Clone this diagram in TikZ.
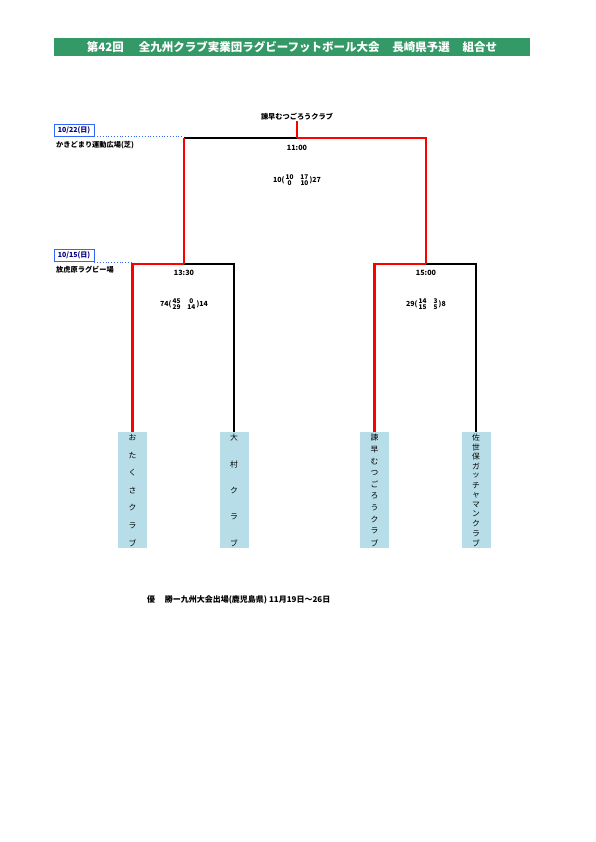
\documentclass[tikz,border=0pt]{standalone}
\usepackage{fontspec}
\setmainfont{Noto Sans CJK JP}
\usepackage{xcolor}
\usetikzlibrary{positioning}
\definecolor{titlegreen}{RGB}{51,153,102}
\definecolor{teamblue}{RGB}{183,222,232}
\definecolor{datenavy}{RGB}{0,0,128}
\definecolor{dateblue}{RGB}{51,102,255}
% team name written top to bottom inside its box: node, number of chars, chars
\newcommand{\teamname}[3]{%
  \foreach \ch [count=\i] in {#3}
    {\node[teamchar] at ([yshift={-(6+(\i-1)*105/(#2-1))*1pt}]#1.north) {\ch};}}
\newcommand{\scorebox}[3]{#1(\,{\fontsize{6.5}{6.5}\selectfont\renewcommand\arraystretch{0.7}\begin{tabular}{@{}c@{\hspace{7pt}}c@{}}#2\end{tabular}}\,)#3}

\begin{document}
\begin{tikzpicture}[x=1pt, y=-1pt,
  win/.style={red, line width=2.4pt},
  lose/.style={black, line width=2pt},
  dateline/.style={dateblue, dotted, line width=0.8pt},
  datebox/.style={draw=dateblue, line width=0.8pt, minimum width=40pt, minimum height=12pt, inner sep=0pt,
    text=datenavy, font=\fontsize{7}{7}\selectfont\bfseries},
  venue/.style={anchor=west, inner sep=0pt, font=\fontsize{7.2}{7}\selectfont\bfseries},
  timelab/.style={inner sep=0pt, font=\fontsize{7.2}{7}\selectfont\bfseries},
  score/.style={inner sep=0pt, font=\fontsize{7}{7}\selectfont\bfseries},
  teambox/.style={fill=teamblue, inner sep=0pt, minimum width=29pt, minimum height=116pt},
  teamchar/.style={inner sep=0pt, font=\fontsize{7.8}{7}\selectfont}]
  \useasboundingbox (0,0) rectangle (595,842);
  % Title bar
  \fill[titlegreen] (54,38) rectangle (530,56);
  \node[text=white, font=\fontsize{11.5}{11}\selectfont\bfseries] (title) at (292,47)
    {第42回\hspace{1.3em}全九州クラブ実業団ラグビーフットボール大会\hspace{1.1em}長崎県予選\hspace{1.1em}組合せ};
  % Teams
  \node[teambox] (t1) at (132.5,490) {};
  \node[teambox] (t2) at (234,490) {};
  \node[teambox] (t3) at (374.5,490) {};
  \node[teambox] (t4) at (476,490) {};
  \teamname{t1}{7}{お,た,く,さ,ク,ラ,ブ}
  \teamname{t2}{5}{大,村,ク,ラ,ブ}
  \teamname{t3}{10}{諫,早,む,つ,ご,ろ,う,ク,ラ,ブ}
  \teamname{t4}{12}{佐,世,保,ガ,ッ,チ,ャ,マ,ン,ク,ラ,ブ}
  % Bracket joints
  \coordinate (sf1) at (184,264);
  \coordinate (sf2) at (426,264);
  \coordinate (fin) at (297,138);
  \coordinate (fl) at (sf1 |- fin);
  \node[timelab] (champ) at (297,117) {諫早むつごろうクラブ};
  % Semi finals
  \draw[lose] (sf1) -| (t2.north);
  \draw[win] (t1.north) |- (sf1);
  \draw[lose] (sf2) -| (t4.north);
  \draw[win] (t3.north) |- (sf2);
  % Final
  \draw[lose] (fl) -- (fin);
  \draw[win] (sf1) -- (fl);
  \draw[win] (sf2) |- (fin);
  \draw[win] (fin) -- (champ.south);
  % Dates and venues
  \node[datebox] (d1) at (74,130.5) {10/22(日)};
  \draw[dateline] (d1.south east) -- (d1.south east -| fl);
  \node[venue] (v1) at (56,145) {かきどまり運動広場(芝)};
  \node[datebox] (d2) at (74,255.5) {10/15(日)};
  \draw[dateline] (d2.south east) -- (d2.south east -| t1);
  \node[venue] (v2) at (56,270) {放虎原ラグビー場};
  % Kick-off times and scores
  \node[timelab] (k0) at (297,148) {11:00};
  \node[timelab] (k1) at (184,273) {13:30};
  \node[timelab] (k2) at (426,273) {15:00};
  \node[score] (s0) at (297,181) {\scorebox{10}{10&17\\0&10}{27}};
  \node[score] (s1) at (184,305) {\scorebox{74}{45&0\\29&14}{14}};
  \node[score] (s2) at (426,305) {\scorebox{29}{14&3\\15&5}{8}};
  % Note
  \node[venue, font=\fontsize{8}{8}\selectfont\bfseries] (note) at (147,600) {優\hspace{1.2em}勝ー九州大会出場(鹿児島県) 11月19日～26日};
\end{tikzpicture}
\end{document}
